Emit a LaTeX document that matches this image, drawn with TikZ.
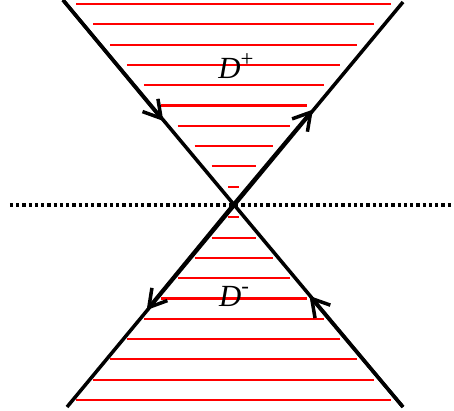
\documentclass[tikz,border=0pt]{standalone}
\usepackage{fontspec}
\setmainfont{Liberation Serif}
\usetikzlibrary{arrows.meta, calc}

\begin{document}
\begin{tikzpicture}[x=0.2mm, y=0.2mm, >={Straight Barb[length=3.4mm, width=4mm]}, every node/.style={font=\fontsize{17.5}{21}\selectfont}, cone/.style={line width=2pt}, hatch/.style={red, line width=1.2pt}]
  \useasboundingbox (-233,-205) rectangle (221,205);
  \coordinate (o) at (0,0);
  \coordinate (tl) at (-170,205);
  \coordinate (tr) at (170,203);
  \coordinate (bl) at (-166,-202);
  \coordinate (br) at (170,-202);
  \coordinate (dl) at (-223,0);
  \coordinate (dr) at (221,0);
  % hatching of the two regions
  \foreach \k in {0,...,9} {
    \draw[hatch] ({0.7-5.3-16.9*\k},{18.3+20.3*\k}) -- ({0.7+5.3+16.9*\k},{18.3+20.3*\k});
    \draw[hatch] ({0.7-5.3-16.9*\k},{-12.3-20.3*\k}) -- ({0.7+5.3+16.9*\k},{-12.3-20.3*\k});
  }
  \draw[line width=2pt, dash pattern=on 0.65mm off 0.6mm] (dl) -- (dr);
  \draw[cone] (tl) -- (br);
  \draw[cone] (tr) -- (bl);
  \draw[cone, ->] (tl) -- ($(tl)!0.59!(o)$);
  \draw[cone, ->] (o) -- ($(o)!0.47!(tr)$);
  \draw[cone, ->] (o) -- ($(o)!0.52!(bl)$);
  \draw[cone, ->] (br) -- ($(br)!0.55!(o)$);
  \node (dplus) at (3,139) {\textit{D}\raisebox{0.9ex}{\fontsize{13}{13}\selectfont +}};
  \node (dminus) at (1,-91) {\textit{D}\raisebox{0.9ex}{\fontsize{13}{13}\selectfont -}};
\end{tikzpicture}
\end{document}
